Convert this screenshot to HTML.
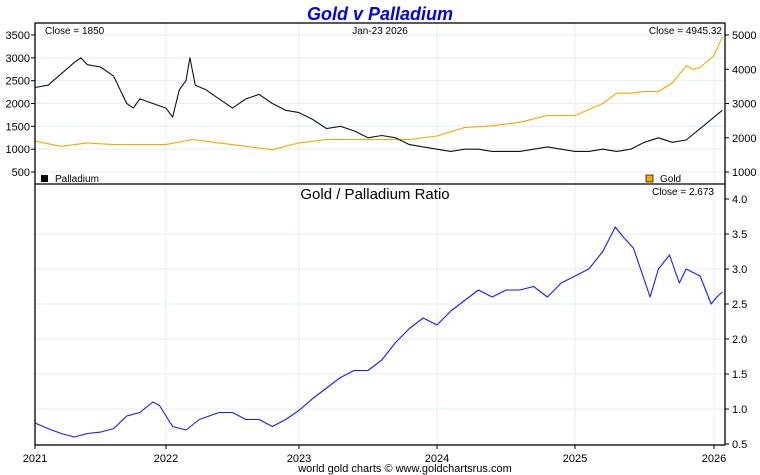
<!DOCTYPE html>
<html><head><meta charset="utf-8"><style>
body{margin:0;background:#fff;width:760px;height:475px;overflow:hidden}
svg{display:block;font-family:"Liberation Sans",sans-serif}
</style></head><body>
<svg id="chart" width="760" height="475">
<text x="380" y="20" text-anchor="middle" font-size="18" font-weight="bold" font-style="italic" fill="#0000ee">Gold v Palladium</text>
<g id="grid"></g>
<g id="series"></g>
<rect x="35" y="23" width="690" height="422" fill="none" stroke="#000" stroke-width="1.3"/>
<line x1="35" y1="184" x2="725" y2="184" stroke="#000" stroke-width="1.3"/>
<g id="axes" font-size="11" fill="#000"></g>
<text x="45" y="34" font-size="10">Close = 1850</text>
<text x="380" y="34" font-size="10" text-anchor="middle">Jan-23  2026</text>
<text x="722" y="34" font-size="10" text-anchor="end">Close = 4945.32</text>
<rect x="41" y="175" width="7" height="7" fill="#000"/>
<text x="55" y="182" font-size="10">Palladium</text>
<rect x="646" y="175" width="7" height="7" fill="#f5a800" stroke="#000" stroke-width="0.7"/>
<text x="660" y="182" font-size="10">Gold</text>
<text x="375" y="199" font-size="15" text-anchor="middle">Gold  /  Palladium Ratio</text>
<text x="714" y="195" font-size="10" text-anchor="end">Close = 2.673</text>
<text x="405" y="472" font-size="11" text-anchor="middle">world gold charts © www.goldchartsrus.com</text>
</svg>
<script>
const years=[2021,2022,2023,2024,2025,2026];
const leftTicks=[500,1000,1500,2000,2500,3000,3500];
const rightTicks=[1000,2000,3000,4000,5000];
const ratioTicks=[0.5,1.0,1.5,2.0,2.5,3.0,3.5,4.0];
const palT=[2021.0,2021.1,2021.2,2021.3,2021.35,2021.4,2021.5,2021.6,2021.7,2021.75,2021.8,2021.9,2022.0,2022.05,2022.1,2022.15,2022.18,2022.22,2022.3,2022.4,2022.5,2022.6,2022.7,2022.8,2022.9,2023.0,2023.1,2023.2,2023.3,2023.4,2023.5,2023.6,2023.7,2023.8,2023.9,2024.0,2024.1,2024.2,2024.3,2024.4,2024.5,2024.6,2024.7,2024.8,2024.9,2025.0,2025.1,2025.2,2025.3,2025.4,2025.5,2025.6,2025.7,2025.8,2025.9,2026.0,2026.06];
const palV=[2350,2400,2650,2900,3000,2850,2800,2600,2000,1900,2100,2000,1900,1700,2300,2500,3000,2400,2300,2100,1900,2100,2200,2000,1850,1800,1650,1450,1500,1400,1250,1300,1250,1100,1050,1000,950,1000,1000,950,950,950,1000,1050,1000,950,950,1000,950,1000,1150,1250,1150,1200,1450,1700,1850];
const goldT=[2021.0,2021.2,2021.4,2021.6,2021.8,2022.0,2022.2,2022.4,2022.6,2022.8,2023.0,2023.2,2023.4,2023.6,2023.8,2024.0,2024.2,2024.4,2024.6,2024.8,2025.0,2025.2,2025.3,2025.4,2025.5,2025.6,2025.7,2025.8,2025.85,2025.9,2026.0,2026.06];
const goldV=[1900,1750,1850,1800,1800,1800,1950,1850,1750,1650,1850,1950,1950,1950,1950,2050,2300,2350,2450,2650,2650,3000,3300,3300,3350,3350,3600,4100,4000,4050,4400,4945];
const ratT=[2021.0,2021.1,2021.2,2021.3,2021.4,2021.5,2021.6,2021.7,2021.8,2021.9,2021.95,2022.05,2022.15,2022.25,2022.4,2022.5,2022.6,2022.7,2022.8,2022.9,2023.0,2023.1,2023.2,2023.3,2023.4,2023.5,2023.6,2023.7,2023.8,2023.9,2024.0,2024.1,2024.2,2024.3,2024.4,2024.5,2024.6,2024.7,2024.8,2024.9,2025.0,2025.1,2025.2,2025.29,2025.35,2025.42,2025.54,2025.6,2025.68,2025.75,2025.8,2025.9,2025.98,2026.02,2026.06];
const ratV=[0.8,0.72,0.65,0.6,0.65,0.67,0.72,0.9,0.95,1.1,1.05,0.75,0.7,0.85,0.95,0.95,0.85,0.85,0.75,0.85,0.98,1.15,1.3,1.45,1.55,1.55,1.7,1.95,2.15,2.3,2.2,2.4,2.55,2.7,2.6,2.7,2.7,2.75,2.6,2.8,2.9,3.0,3.25,3.6,3.45,3.3,2.6,3.0,3.2,2.8,3.0,2.9,2.5,2.6,2.67];
const NS='http://www.w3.org/2000/svg';
const YEAR_PX=[35,166,299,437,575,714];
function xS(t){
  let i=Math.floor(t-2021);
  if(i<0)i=0; if(i>4)i=4;
  return YEAR_PX[i]+(t-2021-i)*(YEAR_PX[i+1]-YEAR_PX[i]);
}
const yL=v=>172-(v-500)*137/3000;
const yR=v=>172-(v-1000)*137/4000;
const yB=v=>444-(v-0.5)*70;
function mk(tag,attrs,parent){const e=document.createElementNS(NS,tag);for(const k in attrs)e.setAttribute(k,attrs[k]);parent.appendChild(e);return e;}
const grid=document.getElementById('grid'),axes=document.getElementById('axes'),series=document.getElementById('series');
years.forEach(y=>{
  const g=mk('line',{x1:xS(y),x2:xS(y),y1:23,y2:445,stroke:'#e3eef8'},grid);
  
  
  const t=mk('text',{x:xS(y),y:462,'text-anchor':'middle'},axes);t.textContent=y;
  
  
  mk('line',{x1:xS(y),x2:xS(y),y1:445,y2:449,stroke:'#000'},axes);
});
leftTicks.forEach(v=>{
  const g=mk('line',{x1:35,x2:725,y1:yL(v),y2:yL(v),stroke:'#e3eef8'},grid);
  
  
  mk('line',{x1:31,x2:35,y1:yL(v),y2:yL(v),stroke:'#000'},axes);
  const t=mk('text',{x:30,y:yL(v)+4,'text-anchor':'end'},axes);t.textContent=v;
  
  
});
rightTicks.forEach(v=>{
  mk('line',{x1:725,x2:729,y1:yR(v),y2:yR(v),stroke:'#000'},axes);
  const t=mk('text',{x:732,y:yR(v)+4},axes);t.textContent=v;
  
  
});
ratioTicks.forEach(v=>{
  if(v>0.5&&v<4){const g=mk('line',{x1:35,x2:725,y1:yB(v),y2:yB(v),stroke:'#e3eef8'},grid);
  
  }
  mk('line',{x1:725,x2:729,y1:yB(v),y2:yB(v),stroke:'#000'},axes);
  const t=mk('text',{x:732,y:yB(v)+4},axes);t.textContent=v.toFixed(1);
  
  
});
function line(T,V,yf,color,name){
  const d=T.map((t,i)=>(i?'L':'M')+xS(t).toFixed(1)+','+yf(V[i]).toFixed(1)).join('');
  const p=mk('path',{d:d,fill:'none',stroke:color,'stroke-width':1.1,'stroke-linejoin':'round'},series);
  
  
}
line(goldT,goldV,yR,'#f5a800','gold-line');
line(palT,palV,yL,'#111','palladium-line');
line(ratT,ratV,yB,'#1a1aff','ratio-line');
</script>
</body></html>
